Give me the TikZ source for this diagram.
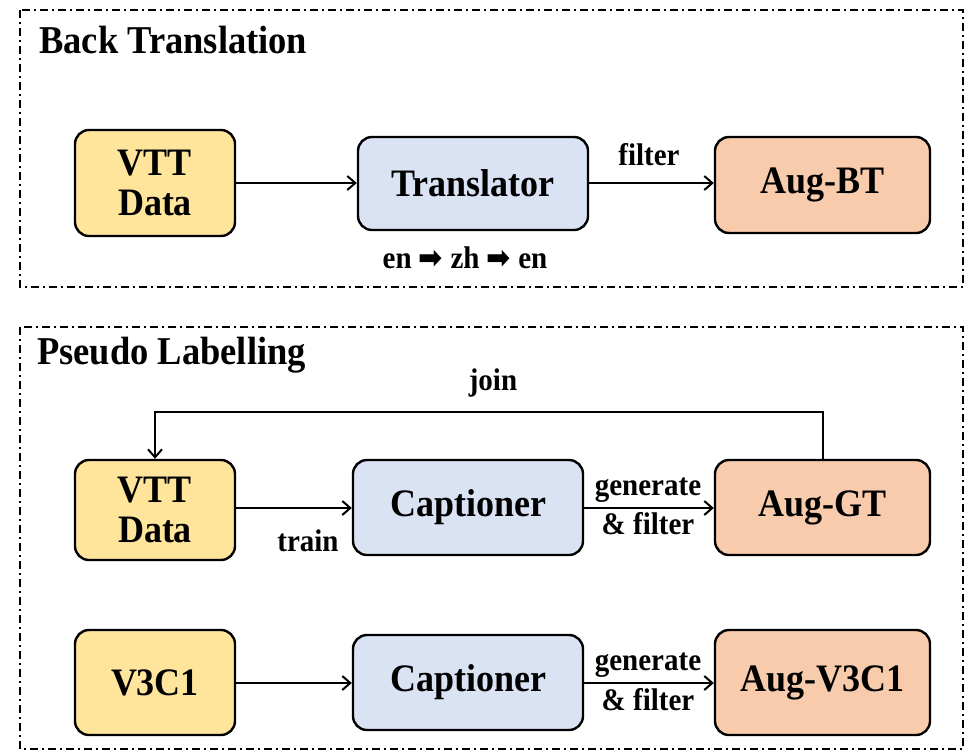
\documentclass[tikz,border=0pt]{standalone}
\usepackage{fontspec}
\setmainfont{Liberation Serif}
\newfontfamily\dejavu{DejaVu Sans}
\usetikzlibrary{arrows.meta}
\definecolor{cyellow}{HTML}{FEE59B}
\definecolor{cblue}{HTML}{DAE3F3}
\definecolor{corange}{HTML}{F8CBAD}
\newcommand{\tall}[1]{\scalebox{1}[1.08]{#1}}
\tikzset{
  box/.style={draw=black, line width=2.4pt, rounded corners=14pt, align=center,
    font=\fontsize{36}{40}\selectfont\bfseries, inner sep=0pt},
  ybox/.style={box, fill=cyellow, minimum width=160pt},
  bbox/.style={box, fill=cblue, minimum width=230pt},
  obox/.style={box, fill=corange, minimum width=215pt},
  frame/.style={draw=black, line width=2pt, dash pattern=on 8pt off 4pt on 2pt off 4pt},
  conn/.style={draw=black, line width=2pt, -{Straight Barb[length=8pt,width=14pt,line width=2pt]}},
  lbl/.style={font=\fontsize{29}{32}\selectfont\bfseries, inner sep=0pt},
  ttl/.style={font=\fontsize{36.5}{40}\selectfont\bfseries, inner sep=0pt, anchor=west}
}
\begin{document}
\begin{tikzpicture}[x=1pt,y=-1pt]
\useasboundingbox (0,0) rectangle (969,753);
\fill[white] (0,0) rectangle (969,753);
% frames
\draw[frame] (20,10) rectangle (963,287);
\draw[frame] (20,327) rectangle (963,749);
\node[ttl] (t1) at (39,40) {\tall{Back Translation}};
\node[ttl] (t2) at (37,355) {\tall{Pseudo Labelling}};
% top row
\node[ybox, minimum height=106pt] (vtt1) at (155,183) {\tall{VTT}\\\tall{Data}};
\node[bbox, minimum height=93pt] (trans) at (473,183.5) {\tall{Translator}};
\node[obox, minimum height=96pt] (augbt) at (822.5,185) {\tall{Aug-BT}};
\draw[conn] (vtt1.east |- 0,183) -- (trans.west |- 0,183);
\draw[conn] (trans.east |- 0,183) -- (augbt.west |- 0,183);
\node[lbl] (lf) at (649,155) {\tall{filter}};
\node[lbl] (lang) at (465,258) {\tall{en {\dejavu ➡} zh {\dejavu ➡} en}};
% middle row
\node[ybox, minimum height=100pt] (vtt2) at (155,510) {\tall{VTT}\\\tall{Data}};
\node[bbox, minimum height=95pt] (cap1) at (468,507.5) {\tall{Captioner}};
\node[obox, minimum height=95pt] (auggt) at (822.5,507.5) {\tall{Aug-GT}};
\draw[conn] (vtt2.east |- 0,508) -- (cap1.west |- 0,508);
\draw[conn] (cap1.east |- 0,508) -- (auggt.west |- 0,508);
\node[lbl] (ltrain) at (308,541) {\tall{train}};
\node[lbl] (lgen1) at (648,490) {\tall{generate}};
\node[lbl] (lfil1) at (648,524) {\tall{\& filter}};
\draw[conn] (auggt.north) -- ++(0,-47) -| (vtt2.north);
\node[lbl] (ljoin) at (493,383) {\tall{join}};
% bottom row
\node[ybox, minimum height=105pt] (v3c1) at (155,682.5) {\tall{V3C1}};
\node[bbox, minimum height=95pt] (cap2) at (468,682.5) {\tall{Captioner}};
\node[obox, minimum height=105pt] (augv) at (822.5,682.5) {\tall{Aug-V3C1}};
\draw[conn] (v3c1.east |- 0,683) -- (cap2.west |- 0,683);
\draw[conn] (cap2.east |- 0,683) -- (augv.west |- 0,683);
\node[lbl] (lgen2) at (648,665) {\tall{generate}};
\node[lbl] (lfil2) at (648,700) {\tall{\& filter}};
\end{tikzpicture}
\end{document}
